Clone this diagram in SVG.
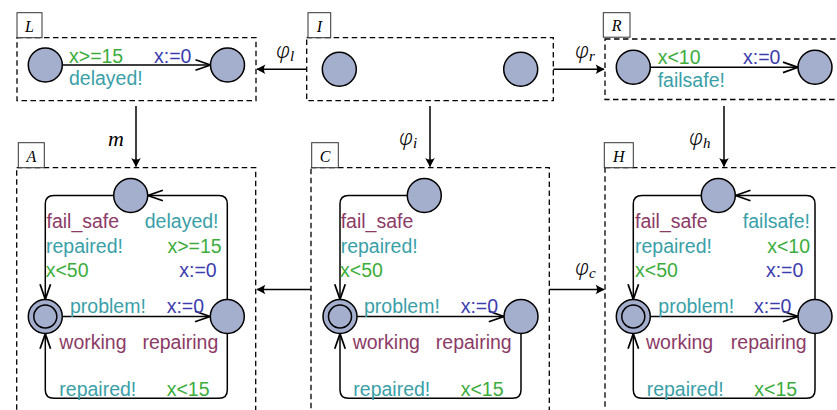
<svg xmlns="http://www.w3.org/2000/svg" width="837" height="410" viewBox="0 0 837 410">
<style>
.bx{fill:none;stroke:#000;stroke-width:1.3;stroke-dasharray:5.5,3.5}
.lb{fill:#fff;stroke:#333;stroke-width:1}
.lt{font-family:"Liberation Serif",serif;font-style:italic;font-size:16px;fill:#000;text-anchor:middle}
.mt{font-family:"Noto Sans","DejaVu Serif",serif;font-style:italic;font-weight:300;font-size:21px;fill:#000}
.sb{font-family:"Liberation Serif",serif;font-style:italic;font-weight:400;font-size:15px}
.st{fill:#a4aecd;stroke:#000;stroke-width:1.5}
.e{fill:none;stroke:#000;stroke-width:1.5}
.c{fill:none;stroke:#000;stroke-width:1.5}
text.t{font-family:"Liberation Sans",Arial,sans-serif;font-size:19.5px}
.mg{fill:#8c3a66}.tl{fill:#3aa0a8}.gr{fill:#3cad3c}.bl{fill:#3c3cae}
.en{text-anchor:end}
</style>
<defs>
<marker id="op" markerUnits="userSpaceOnUse" markerWidth="20" markerHeight="20" viewBox="-14 -7 16 14" refX="0" refY="0" orient="auto">
<path d="M-12,-4.2 L0,0 L-12,4.2" fill="none" stroke="#000" stroke-width="1.4"/>
</marker>
<marker id="tp" markerUnits="userSpaceOnUse" markerWidth="12" markerHeight="12" viewBox="-9 -5 10 10" refX="0" refY="0" orient="auto">
<path d="M0.5,0 L-7,-4 Q-4.5,0 -7,4 Z" fill="#000"/>
</marker>
</defs>

<g id="connectors">
<path class="c" d="M306.7,69.3 H257" marker-end="url(#tp)"/>
<path class="c" d="M553.3,69.3 H604" marker-end="url(#tp)"/>
<path class="c" d="M136,106 V166.5" marker-end="url(#tp)"/>
<path class="c" d="M430,106 V166.5" marker-end="url(#tp)"/>
<path class="c" d="M724,106 V166.5" marker-end="url(#tp)"/>
<path class="c" d="M311,289.5 H257" marker-end="url(#tp)"/>
<path class="c" d="M549.3,289.5 H604" marker-end="url(#tp)"/>
<text class="mt" x="276" y="58">φ<tspan class="sb" dy="3">l</tspan></text>
<text class="mt" x="575" y="58">φ<tspan class="sb" dy="3">r</tspan></text>
<text style="font-family:'Liberation Serif',serif;font-style:italic;font-size:22px" x="108" y="146">m</text>
<text class="mt" x="399" y="145">φ<tspan class="sb" dy="3">i</tspan></text>
<text class="mt" x="689" y="145">φ<tspan class="sb" dy="3">h</tspan></text>
<text class="mt" x="575" y="275">φ<tspan class="sb" dy="3">c</tspan></text>
</g>

<g id="L">
<rect class="bx" x="17" y="37.7" width="239" height="63"/>
<rect class="lb" x="17" y="12.7" width="25" height="25"/>
<text class="lt" x="29.5" y="31.5">L</text>
<path class="e" d="M62,65 H210.5" marker-end="url(#op)"/>
<circle class="st" cx="45.3" cy="65" r="17"/>
<circle class="st" cx="227.5" cy="65" r="17"/>
<text class="t gr" x="69" y="62.5">x&gt;=15</text>
<text class="t bl" x="154" y="62.5">x:=0</text>
<text class="t tl" x="69" y="84.5">delayed!</text>
</g>

<g id="I">
<rect class="bx" x="306.7" y="37.7" width="246.6" height="63"/>
<rect class="lb" x="308" y="12.7" width="22.7" height="25"/>
<text class="lt" x="319.5" y="31.5">I</text>
<circle class="st" cx="339.3" cy="69.3" r="17"/>
<circle class="st" cx="520.7" cy="69.3" r="17"/>
</g>

<g id="R">
<rect class="bx" x="605" y="39" width="260" height="60.5"/>
<rect class="lb" x="603.3" y="12.7" width="26.7" height="24.5"/>
<text class="lt" x="616.7" y="31">R</text>
<path class="e" d="M650.3,67.3 H798" marker-end="url(#op)"/>
<circle class="st" cx="633.3" cy="67.3" r="17"/>
<circle class="st" cx="815" cy="67.3" r="17"/>
<text class="t gr" x="657.7" y="63.5">x&lt;10</text>
<text class="t bl" x="743" y="63.5">x:=0</text>
<text class="t tl" x="657.7" y="87">failsafe!</text>
</g>

<g id="A">
<rect class="bx" x="16.7" y="167.7" width="239" height="260"/>
<rect class="lb" x="18.3" y="142.7" width="26" height="25"/>
<text class="lt" x="31.3" y="161.5">A</text>
<path class="e" d="M113.7,195.5 H54 Q45.3,195.5 45.3,204 V299.3" marker-end="url(#op)"/>
<path class="e" d="M227.3,299.5 V204 Q227.3,195.5 219,195.5 H147.9" marker-end="url(#op)"/>
<path class="e" d="M62.3,316.5 H210" marker-end="url(#op)"/>
<path class="e" d="M227.3,333.5 V390 Q227.3,398.3 219,398.3 H54 Q45.3,398.3 45.3,390 V333.7" marker-end="url(#op)"/>
<circle class="st" cx="130.7" cy="195.5" r="17"/>
<circle class="st" cx="45.3" cy="316.5" r="17"/>
<circle class="st" cx="45.3" cy="316.5" r="11.5"/>
<circle class="st" cx="227.3" cy="316.5" r="17"/>
<text class="t mg" x="46.5" y="228">fail_safe</text>
<text class="t tl en" x="218.5" y="228">delayed!</text>
<text class="t tl" x="46" y="252.5">repaired!</text>
<text class="t gr en" x="221.7" y="252.5">x&gt;=15</text>
<text class="t gr" x="45.7" y="276.7">x&lt;50</text>
<text class="t bl en" x="216.7" y="276.7">x:=0</text>
<text class="t tl" x="70" y="313">problem!</text>
<text class="t bl" x="166.7" y="313">x:=0</text>
<text class="t mg" x="59.3" y="349">working</text>
<text class="t mg en" x="218.3" y="349">repairing</text>
<text class="t tl" x="59.3" y="396.3">repaired!</text>
<text class="t gr" x="166.7" y="396.3">x&lt;15</text>
</g>

<g id="C">
<rect class="bx" x="311" y="167.7" width="238.3" height="260"/>
<rect class="lb" x="311.7" y="142.7" width="26.6" height="25"/>
<text class="lt" x="325" y="161.5">C</text>
<path class="e" d="M407.3,195.5 H348.5 Q340,195.5 340,204 V299.3" marker-end="url(#op)"/>
<path class="e" d="M357,316.5 H503.8" marker-end="url(#op)"/>
<path class="e" d="M521,333.5 V390 Q521,398.3 512.5,398.3 H348.5 Q340,398.3 340,390 V333.7" marker-end="url(#op)"/>
<circle class="st" cx="424.3" cy="195.5" r="17"/>
<circle class="st" cx="340" cy="316.5" r="17"/>
<circle class="st" cx="340" cy="316.5" r="11.5"/>
<circle class="st" cx="521" cy="316.5" r="17"/>
<text class="t mg" x="340.7" y="228">fail_safe</text>
<text class="t tl" x="340.7" y="252.5">repaired!</text>
<text class="t gr" x="340" y="276.7">x&lt;50</text>
<text class="t tl" x="364" y="313">problem!</text>
<text class="t bl" x="460.7" y="313">x:=0</text>
<text class="t mg" x="352.7" y="349">working</text>
<text class="t mg en" x="511.7" y="349">repairing</text>
<text class="t tl" x="353.3" y="396.3">repaired!</text>
<text class="t gr" x="460.7" y="396.3">x&lt;15</text>
</g>

<g id="H">
<rect class="bx" x="605" y="167.7" width="260" height="260"/>
<rect class="lb" x="604.3" y="142.7" width="29" height="25"/>
<text class="lt" x="618.8" y="161.5">H</text>
<path class="e" d="M701.3,195.5 H642 Q633.3,195.5 633.3,204 V299.3" marker-end="url(#op)"/>
<path class="e" d="M815,299.5 V204 Q815,195.5 806.5,195.5 H735.5" marker-end="url(#op)"/>
<path class="e" d="M650.3,316.5 H797.8" marker-end="url(#op)"/>
<path class="e" d="M815,333.5 V390 Q815,398.3 806.5,398.3 H642 Q633.3,398.3 633.3,390 V333.7" marker-end="url(#op)"/>
<circle class="st" cx="718.3" cy="195.5" r="17"/>
<circle class="st" cx="633.3" cy="316.5" r="17"/>
<circle class="st" cx="633.3" cy="316.5" r="11.5"/>
<circle class="st" cx="815" cy="316.5" r="17"/>
<text class="t mg" x="635" y="228">fail_safe</text>
<text class="t tl en" x="810" y="228">failsafe!</text>
<text class="t tl" x="635" y="252.5">repaired!</text>
<text class="t gr en" x="810" y="252.5">x&lt;10</text>
<text class="t gr" x="635" y="276.7">x&lt;50</text>
<text class="t bl en" x="803.3" y="276.7">x:=0</text>
<text class="t tl" x="658.3" y="313">problem!</text>
<text class="t bl" x="754" y="313">x:=0</text>
<text class="t mg" x="646" y="349">working</text>
<text class="t mg en" x="806.7" y="349">repairing</text>
<text class="t tl" x="646.7" y="396.3">repaired!</text>
<text class="t gr" x="754.3" y="396.3">x&lt;15</text>
</g>
</svg>
